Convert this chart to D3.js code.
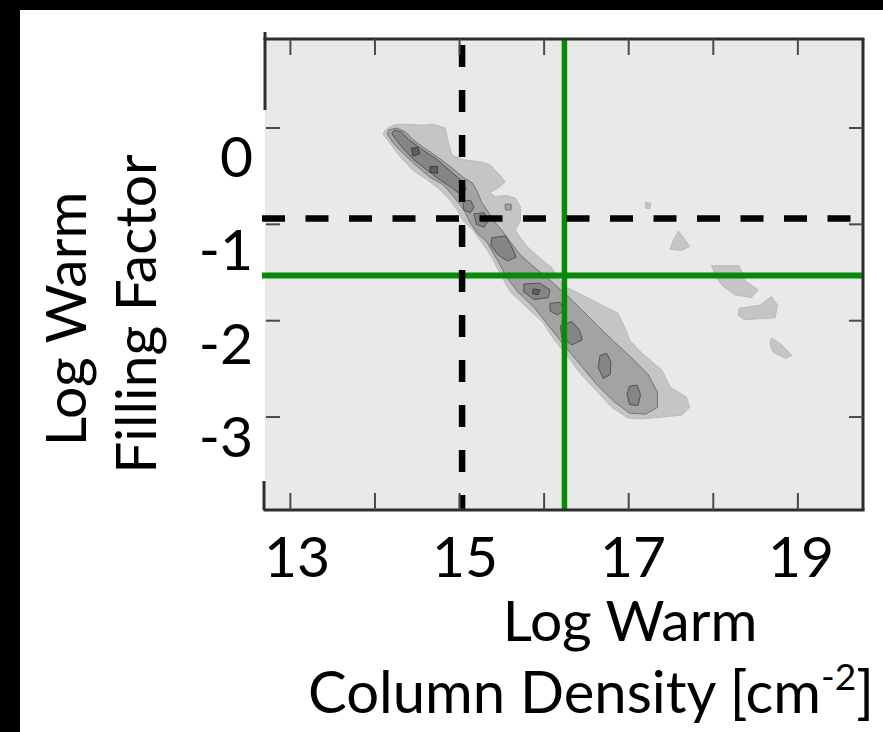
<!DOCTYPE html>
<html>
<head>
<meta charset="utf-8">
<script src="https://cdn.jsdelivr.net/npm/d3@7"></script>
<style>
  html, body { margin: 0; padding: 0; background: #fff; }
  svg { display: block; }
  text { font-family: Lato, "Open Sans", sans-serif; fill: #000; }
</style>
</head>
<body>
<svg id="chart" width="883" height="732"></svg>
<script>
// ---------------- data ----------------
const xTickValues = [13, 14, 15, 16, 17, 18, 19];
const xTickLabels = [13, 15, 17, 19];
const yTickValues = [0, -1, -2, -3];
const yTickLabels = ["0", "-1", "-2", "-3"];
const xTitleLines = ["Log Warm", "Column Density [cm"];
const yTitleLines = ["Log Warm", "Filling Factor"];

// reference lines
const dashedX = 15.03;     // vertical dashed
const dashedY = -0.94;     // horizontal dashed
const greenX = 16.24;      // vertical green
const greenY = -1.53;      // horizontal green

// contour level 1 (outer, lightest) – main band
const level1Band = [[14.10,-0.05],[14.15,0.00],[14.22,0.03],[14.33,0.04],[14.57,0.03],[14.69,0.04],[14.83,0.00],[14.87,-0.16],[14.91,-0.28],[15.04,-0.33],[15.24,-0.35],[15.36,-0.38],[15.48,-0.49],[15.54,-0.56],[15.46,-0.62],[15.36,-0.67],[15.42,-0.71],[15.56,-0.70],[15.66,-0.73],[15.72,-0.82],[15.72,-0.96],[15.66,-1.06],[15.72,-1.14],[15.81,-1.24],[15.95,-1.35],[16.09,-1.45],[16.19,-1.58],[16.28,-1.66],[16.49,-1.75],[16.73,-1.86],[16.87,-1.92],[16.97,-2.10],[17.01,-2.20],[17.16,-2.34],[17.39,-2.51],[17.49,-2.69],[17.68,-2.79],[17.72,-2.90],[17.63,-2.98],[17.39,-3.00],[17.16,-3.02],[16.99,-3.01],[16.80,-2.90],[16.61,-2.72],[16.42,-2.54],[16.26,-2.35],[16.12,-2.20],[15.98,-2.01],[15.79,-1.86],[15.60,-1.70],[15.49,-1.53],[15.40,-1.37],[15.33,-1.27],[15.24,-1.16],[15.16,-1.06],[15.04,-0.96],[14.97,-0.85],[14.89,-0.75],[14.77,-0.64],[14.62,-0.54],[14.45,-0.44],[14.30,-0.30],[14.18,-0.16],[14.10,-0.07]];
// level 1 isolated islands
const level1Islands = [
  [[17.20,-0.77],[17.26,-0.78],[17.25,-0.84],[17.20,-0.83]],
  [[17.59,-1.07],[17.65,-1.14],[17.72,-1.23],[17.63,-1.27],[17.49,-1.26],[17.53,-1.16]],
  [[17.98,-1.43],[18.31,-1.43],[18.37,-1.58],[18.53,-1.68],[18.45,-1.76],[18.25,-1.73],[18.10,-1.63],[18.03,-1.54]],
  [[18.31,-1.87],[18.55,-1.84],[18.69,-1.75],[18.76,-1.84],[18.73,-1.97],[18.37,-1.99],[18.29,-1.94]],
  [[18.69,-2.18],[18.81,-2.25],[18.93,-2.36],[18.86,-2.39],[18.71,-2.33],[18.67,-2.24]]
];
// contour level 2
const level2Band = [[14.16,-0.02],[14.26,0.00],[14.36,-0.04],[14.45,-0.12],[14.57,-0.20],[14.74,-0.30],[14.89,-0.40],[15.04,-0.51],[15.15,-0.57],[15.21,-0.66],[15.26,-0.77],[15.33,-0.86],[15.41,-0.97],[15.50,-1.06],[15.60,-1.18],[15.72,-1.32],[15.89,-1.45],[16.07,-1.58],[16.26,-1.73],[16.45,-1.89],[16.64,-2.06],[16.83,-2.22],[17.04,-2.39],[17.23,-2.56],[17.34,-2.74],[17.34,-2.90],[17.20,-2.97],[17.01,-2.96],[16.83,-2.84],[16.64,-2.68],[16.45,-2.48],[16.26,-2.28],[16.07,-2.07],[15.88,-1.86],[15.69,-1.70],[15.55,-1.54],[15.46,-1.39],[15.40,-1.30],[15.33,-1.19],[15.21,-1.09],[15.13,-0.99],[15.07,-0.88],[15.01,-0.80],[14.92,-0.70],[14.81,-0.59],[14.65,-0.51],[14.50,-0.40],[14.33,-0.26],[14.22,-0.16],[14.15,-0.07]];
const level2Islands = [
  [[15.54,-0.79],[15.61,-0.79],[15.61,-0.85],[15.54,-0.85]]
];
// contour level 3 patches
const level3Patches = [
  [[14.23,-0.02],[14.31,-0.04],[14.40,-0.12],[14.57,-0.23],[14.74,-0.33],[14.91,-0.46],[15.04,-0.56],[15.08,-0.64],[15.01,-0.69],[14.91,-0.62],[14.77,-0.54],[14.62,-0.44],[14.46,-0.33],[14.33,-0.21],[14.25,-0.12],[14.20,-0.06]],
  [[15.04,-0.76],[15.13,-0.75],[15.17,-0.82],[15.13,-0.88],[15.05,-0.85]],
  [[15.17,-0.89],[15.29,-0.88],[15.34,-0.96],[15.29,-1.03],[15.20,-1.00]],
  [[15.38,-1.14],[15.54,-1.12],[15.61,-1.22],[15.67,-1.34],[15.57,-1.38],[15.46,-1.32],[15.37,-1.22]],
  [[15.76,-1.62],[15.95,-1.61],[16.07,-1.68],[16.05,-1.76],[15.88,-1.78],[15.76,-1.70]],
  [[16.07,-1.82],[16.19,-1.81],[16.24,-1.89],[16.16,-1.94],[16.07,-1.90]],
  [[16.19,-2.05],[16.33,-2.01],[16.42,-2.10],[16.45,-2.20],[16.33,-2.25],[16.21,-2.18]],
  [[16.66,-2.36],[16.74,-2.34],[16.79,-2.43],[16.78,-2.56],[16.70,-2.60],[16.64,-2.49]],
  [[17.01,-2.68],[17.10,-2.67],[17.14,-2.77],[17.11,-2.88],[17.01,-2.87],[16.98,-2.76]]
];
// contour level 4 spots
const level4Patches = [
  [[14.43,-0.21],[14.51,-0.20],[14.53,-0.27],[14.45,-0.29]],
  [[14.65,-0.40],[14.74,-0.40],[14.74,-0.47],[14.65,-0.46]],
  [[15.87,-1.67],[15.95,-1.68],[15.93,-1.73],[15.86,-1.72]]
];

const levelColors = ["#c5c5c5", "#a3a3a3", "#858585", "#5f5f5f"];

// ---------------- drawing ----------------
const svg = d3.select("#chart");
const plot = { left: 265, right: 863, top: 39, bottom: 510 };

const x = d3.scaleLinear().domain([12.7, 19.77]).range([plot.left, plot.right]);
const y = d3.scaleLinear().domain([-3.965, 0.924]).range([plot.bottom, plot.top]);
const xLabelPos = d3.scaleLinear().domain([13, 19]).range([297, 801]);
const yLabelBase = d3.scaleLinear().domain([0, -3]).range([177, 457]);

// black border bands
svg.append("rect").attr("x", 0).attr("y", 0).attr("width", 883).attr("height", 10).attr("fill", "#000");
svg.append("rect").attr("x", 0).attr("y", 0).attr("width", 20).attr("height", 732).attr("fill", "#000");

// plot background
svg.append("rect")
  .attr("x", plot.left).attr("y", plot.top)
  .attr("width", plot.right - plot.left).attr("height", plot.bottom - plot.top)
  .attr("fill", "#e9e9e9");

svg.append("clipPath").attr("id", "clip").append("rect")
  .attr("x", plot.left).attr("y", plot.top)
  .attr("width", plot.right - plot.left).attr("height", plot.bottom - plot.top);

const g = svg.append("g").attr("clip-path", "url(#clip)");
const line = d3.line().x(d => x(d[0])).y(d => y(d[1])).curve(d3.curveLinearClosed);

function drawLevel(polys, i, stroke) {
  g.append("g").selectAll("path").data(polys).join("path")
    .attr("d", line)
    .attr("fill", levelColors[i])
    .attr("stroke", stroke)
    .attr("stroke-width", 1)
    .attr("stroke-linejoin", "round");
}
drawLevel([level1Band].concat(level1Islands), 0, "#bababa");
drawLevel([level2Band].concat(level2Islands), 1, "#747474");
drawLevel(level3Patches, 2, "#535353");
drawLevel(level4Patches, 3, "#3f3f3f");

// green reference lines
g.append("line").attr("x1", x(greenX)).attr("x2", x(greenX))
  .attr("y1", plot.top).attr("y2", plot.bottom)
  .attr("stroke", "#078a07").attr("stroke-width", 5.5);
svg.append("line").attr("x1", plot.left - 3).attr("x2", plot.right)
  .attr("y1", y(greenY)).attr("y2", y(greenY))
  .attr("stroke", "#078a07").attr("stroke-width", 6);

// dashed reference lines
svg.append("line").attr("x1", x(dashedX)).attr("x2", x(dashedX))
  .attr("y1", plot.top + 6).attr("y2", plot.bottom)
  .attr("stroke", "#000").attr("stroke-width", 6.5)
  .attr("stroke-dasharray", "22,23");
svg.append("line").attr("x1", plot.left - 3).attr("x2", plot.right)
  .attr("y1", y(dashedY)).attr("y2", y(dashedY))
  .attr("stroke", "#000").attr("stroke-width", 6.5)
  .attr("stroke-dasharray", "23,20.5");

// frame
const frameColor = "#2e2e2e";
svg.append("line").attr("x1", plot.left - 1.5).attr("x2", plot.right + 1.5).attr("y1", plot.top).attr("y2", plot.top)
  .attr("stroke", frameColor).attr("stroke-width", 3);
svg.append("line").attr("x1", plot.left - 1.5).attr("x2", plot.right + 1.5).attr("y1", plot.bottom).attr("y2", plot.bottom)
  .attr("stroke", frameColor).attr("stroke-width", 3);
svg.append("line").attr("x1", plot.right).attr("x2", plot.right).attr("y1", plot.top).attr("y2", plot.bottom)
  .attr("stroke", frameColor).attr("stroke-width", 3);
svg.append("line").attr("x1", plot.left).attr("x2", plot.left).attr("y1", plot.top - 7).attr("y2", 110)
  .attr("stroke", frameColor).attr("stroke-width", 3);
svg.append("line").attr("x1", plot.left - 1).attr("x2", plot.left - 1).attr("y1", 481).attr("y2", plot.bottom)
  .attr("stroke", frameColor).attr("stroke-width", 3);

// ticks
const tickColor = "#4a4a4a";
const ticks = svg.append("g").attr("stroke", tickColor).attr("stroke-width", 2);
ticks.selectAll(".tt").data(xTickValues).join("line")
  .attr("x1", d => x(d)).attr("x2", d => x(d)).attr("y1", plot.top).attr("y2", plot.top + 16);
ticks.selectAll(".tb").data(xTickValues).join("line")
  .attr("x1", d => x(d)).attr("x2", d => x(d)).attr("y1", plot.bottom).attr("y2", plot.bottom - 17);
ticks.selectAll(".tl").data(yTickValues).join("line")
  .attr("x1", plot.left + 1).attr("x2", plot.left + 15).attr("y1", d => y(d)).attr("y2", d => y(d));
ticks.selectAll(".tr").data(yTickValues).join("line")
  .attr("x1", plot.right).attr("x2", plot.right - 14).attr("y1", d => y(d)).attr("y2", d => y(d));

// tick labels
const fs = 57;
svg.selectAll(".xl").data(xTickLabels).join("text")
  .attr("x", d => xLabelPos(d)).attr("y", 577)
  .attr("text-anchor", "middle").attr("font-size", fs)
  .text(d => d);
svg.selectAll(".yl").data(yTickValues).join("text")
  .attr("x", 253).attr("y", d => yLabelBase(d))
  .attr("text-anchor", "end").attr("font-size", fs)
  .text((d, i) => yTickLabels[i]);

// x title
svg.append("text").attr("x", 630).attr("y", 641)
  .attr("text-anchor", "middle").attr("font-size", fs).text(xTitleLines[0]);
const t2 = svg.append("text").attr("x", 591).attr("y", 713)
  .attr("text-anchor", "middle").attr("font-size", 58);
t2.append("tspan").text(xTitleLines[1]);
t2.append("tspan").attr("font-size", 37).attr("dy", -23).text("-2");
t2.append("tspan").attr("dy", 23).text("]");

// y title
svg.append("text").attr("transform", "translate(86,319) rotate(-90)")
  .attr("text-anchor", "middle").attr("font-size", fs).text(yTitleLines[0]);
svg.append("text").attr("transform", "translate(156,314) rotate(-90)")
  .attr("text-anchor", "middle").attr("font-size", fs).text(yTitleLines[1]);
</script>
</body>
</html>
